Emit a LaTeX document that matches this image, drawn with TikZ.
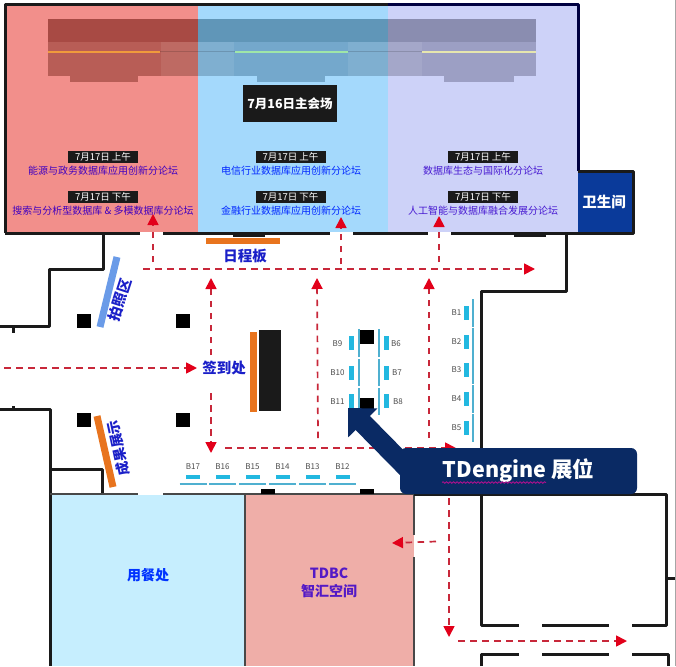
\documentclass[tikz,border=0pt]{standalone}
\usepackage{fontspec}
\setmainfont{Noto Sans CJK SC}
\usetikzlibrary{arrows.meta, decorations.pathmorphing}

\definecolor{wallblack}{HTML}{1A1A1A}
\definecolor{hallred}{HTML}{F28F8B}
\definecolor{hallblue}{HTML}{A4D9FC}
\definecolor{halllav}{HTML}{CDD2F8}
\definecolor{loungeblue}{HTML}{C6EEFE}
\definecolor{loungered}{HTML}{EFAEA8}
\definecolor{wcblue}{HTML}{0A3A9A}
\definecolor{navy}{HTML}{0A2A64}
\definecolor{barorange}{HTML}{E8741E}
\definecolor{barblue}{HTML}{6A9BE8}
\definecolor{boothcyan}{HTML}{22B8E0}
\definecolor{boothline}{HTML}{4FB0D0}
\definecolor{routered}{HTML}{C8283A}
\definecolor{tipred}{HTML}{E2001A}
\definecolor{labelblue}{HTML}{1A1FC8}
\definecolor{stagetopA}{HTML}{A84A44}
\definecolor{stagetopB}{HTML}{6096B8}
\definecolor{stagetopC}{HTML}{8A8DB0}
\definecolor{stagelowA}{HTML}{B85D56}
\definecolor{stagelowB}{HTML}{74A8CC}
\definecolor{stagelowC}{HTML}{9C9FC4}
\definecolor{stagelineA}{HTML}{F09A3C}
\definecolor{stagelineB}{HTML}{9FE6A8}
\definecolor{stagelineC}{HTML}{E6E6AE}

\begin{document}
\begin{tikzpicture}[x=1pt, y=-1pt,
    wall/.style = {draw=wallblack, line width=3pt, line join=round},
    thinwall/.style = {draw=wallblack!80, line width=2pt},
    route/.style = {draw=routered, line width=1.7pt,
        dash pattern=on 6.5pt off 5.5pt,
        -{Triangle[length=11pt,width=11pt,color=tipred]}},
    timetag/.style = {fill=wallblack, text=white, inner sep=0pt,
        minimum width=70pt, minimum height=12pt,
        font=\fontsize{9.5}{10}\selectfont},
    forum/.style = {font=\fontsize{10}{11}\selectfont, inner sep=0pt},
    zone/.style = {text=labelblue, inner sep=0pt,
        font=\fontsize{14.5}{16}\selectfont\bfseries},
    booth/.style = {text=black!70, inner sep=0pt,
        font=\fontsize{8}{9}\selectfont},
    pillar/.style = {fill=black, inner sep=0pt, minimum size=14pt}]

\useasboundingbox (0,0) rectangle (676,666);

% Main hall
\fill[hallred] (5,5) rectangle (198,232);
\fill[hallblue] (198,5) rectangle (388,232);
\fill[halllav] (388,5) rectangle (578,232);

% Stage
\foreach \xa/\xb/\part in {48/198/A,198/388/B,388/536/C} {
    \fill[stagetop\part] (\xa,19) rectangle (\xb,42);
    \fill[stagelow\part] (\xa,42) rectangle (\xb,76);
}
\fill[stagelowA!92!white] (161,42) rectangle (198,76);
\fill[stagelowB!92!white] (198,42) rectangle (234,76);
\fill[stagelowB!92!white] (348,42) rectangle (388,76);
\fill[stagelowC!92!white] (388,42) rectangle (422,76);
\fill[stagelowA] (70,76) rectangle ++(68,6);
\fill[stagelowB] (257,76) rectangle ++(68,6);
\fill[stagelowC] (444,76) rectangle ++(70,6);
\draw[line width=1pt, black, draw opacity=.15] (160,52) -- (235,52);
\draw[line width=1pt, black, draw opacity=.15] (348,52) -- (422,52);
\draw[line width=1.1pt, stagelineA] (48,52) -- (160,52);
\draw[line width=1.1pt, stagelineB] (235,52) -- (348,52);
\draw[line width=1.1pt, stagelineC] (422,52) -- (536,52);

% Main hall labels
\node[fill=wallblack, text=white, inner sep=0pt, minimum width=94pt, minimum height=37pt,
    font=\fontsize{12.5}{14}\selectfont\bfseries] (mainhall) at (290,103.5) {7月16日主会场};

\node[timetag] (amA) at (103,157) {7月17日 上午};
\node[timetag] (pmA) at (103,197) {7月17日 下午};
\node[timetag] (amB) at (290.5,157) {7月17日 上午};
\node[timetag] (pmB) at (290.5,197) {7月17日 下午};
\node[timetag] (amC) at (483,157) {7月17日 上午};
\node[timetag] (pmC) at (483,197) {7月17日 下午};

\node[forum, text=blue!75!red] (forumA) at (103,170.5) {能源与政务数据库应用创新分论坛};
\node[forum, text=blue!75!red] (forumB) at (103,210.5) {搜索与分析型数据库 \& 多模数据库分论坛};
\node[forum, text=blue!85!cyan] (forumC) at (291,170.5) {电信行业数据库应用创新分论坛};
\node[forum, text=blue!85!cyan] (forumD) at (291,210.5) {金融行业数据库应用创新分论坛};
\node[forum, text=blue!80!red!90!white] (forumE) at (483,170.5) {数据库生态与国际化分论坛};
\node[forum, text=blue!80!red!90!white] (forumF) at (483,210.5) {人工智能与数据库融合发展分论坛};

% Restroom
\fill[wcblue] (578,171) rectangle (633,233);
\node[text=white, inner sep=0pt, font=\fontsize{14.5}{16}\selectfont\bfseries] (wc) at (604,202) {卫生间};

% Lower rooms
\fill[loungeblue] (51,495) rectangle (245,666);
\fill[loungered] (245,495) rectangle (414,666);
\node[zone, text=blue!80!cyan, font=\fontsize{14}{16}\selectfont\bfseries] (dining) at (148,575) {用餐处};
\node[zone, text=blue!75!red!90!white, font=\fontsize{14}{18}\selectfont\bfseries, align=center] (tdbc) at (329,583) {TDBC\\智汇空间};

% Walls
\draw[wall] (5,233) -- (5,5) -- (198,5) -- (388,5);
\draw[wall, draw=black!75!blue] (388,5) -- (578,5) -- (578,171);
\draw[wall] (5,233) -- (140,233);
\draw[wall] (163,233) -- (330,233);
\draw[wall] (353,233) -- (428,233);
\draw[wall] (451,233) -- (633,233) -- (633,171) -- (578,171);
\fill[wallblack] (233,233) rectangle (265,236.5);
\fill[wallblack] (514,233) rectangle (546,236.5);
\draw[wall] (103,233) -- (103,269) -- (49,269) -- (49,326) -- (0,326);
\draw[wall] (13,326) -- (13,333);
\draw[wall] (0,409) -- (50,409) -- (50,666);
\draw[wall] (13,406) -- (13,409);
\draw[wall] (50,469) -- (102,469) -- (102,494);
\draw[wall] (566,233) -- (566,291) -- (481,291) -- (481,455);
\draw[thinwall] (50,494) -- (138,494);
\draw[thinwall] (163,494) -- (414,494);
\draw[thinwall] (245,494) -- (245,666);
\draw[thinwall] (414,494) -- (414,535);
\draw[thinwall] (414,557) -- (414,666);
\fill[black] (261,489) rectangle (275,494);
\fill[black] (360,489) rectangle (374,494);

% Right rooms
\draw[wall] (414,494) -- (666,494) -- (666,625) -- (632,625);
\draw[wall] (481,494) -- (481,625) -- (519,625);
\draw[wall] (542,625) -- (609,625);
\draw[wall] (666,578) -- (676,578);
\draw[wall] (481,666) -- (481,654) -- (519,654);
\draw[wall] (542,654) -- (609,654);
\draw[wall] (632,654) -- (668,654) -- (668,666);

% Pillars
\node[pillar] (pillarA) at (84,321) {};
\node[pillar] (pillarB) at (183,321) {};
\node[pillar] (pillarC) at (84,420) {};
\node[pillar] (pillarD) at (183,420) {};
\node[pillar] (pillarE) at (367,337) {};
\node[pillar] (pillarF) at (367,405) {};

% Boards
\fill[barorange] (206,238) rectangle (280,244);
\fill[barorange] (250,332) rectangle (256.5,412);
\fill[wallblack] (259,330) rectangle (281,411);
\draw[line width=7pt, barblue] (117,257) -- (100,327);
\draw[line width=7pt, barorange] (97,416) -- (113,487);

\node[zone] (schedule) at (245,256) {日程板};
\node[zone] (signin) at (224,368) {签到处};
\node[zone, rotate=72] (photo) at (120,300) {拍照区};
\node[zone, rotate=102, font=\fontsize{14}{16}\selectfont\bfseries] (results) at (118,448) {成果展示};

% Booths, bottom row
\foreach \n/\x in {17/193,16/222.5,15/252.5,14/282.5,13/312.5,12/342.5} {
    \node[booth] (b\n) at (\x,467) {B\n};
    \fill[boothcyan] (\x-7,474.5) rectangle (\x+7,479);
    \draw[line width=1.2pt, boothline] (\x-13.5,484) -- (\x+13.5,484);
}

% Booths, middle island
\foreach \n/\y in {9/343,10/372.5,11/401} {
    \node[booth] (b\n) at (337.5,\y+.5) {B\n};
    \fill[boothcyan] (348.5,\y-7) rectangle (353.5,\y+7);
}
\foreach \n/\y/\x in {6/343/396,7/372.5/397,8/401/398} {
    \node[booth] (b\n) at (\x,\y+.5) {B\n};
    \fill[boothcyan] (384,\y-7) rectangle (389,\y+7);
}
\foreach \ya/\yb in {329/357,359/386,388/415} {
    \draw[line width=1.2pt, boothline] (359,\ya) -- (359,\yb);
    \draw[line width=1.2pt, boothline] (379,\ya) -- (379,\yb);
}

% Booths, right column
\foreach \n/\y in {1/313,2/341.5,3/370,4/399,5/428} {
    \node[booth] (b\n) at (456.5,\y) {B\n};
    \fill[boothcyan] (463.5,\y-7) rectangle (468.5,\y+7);
    \draw[line width=1.2pt, boothline] (473,\y-14) -- (473,\y+14);
}

% Routes
\draw[route] (4,368) -- (197,368);
\draw[route] (211,355) -- (211,278);
\draw[route] (211,393) -- (211,453);
\draw[route] (318,438) -- (317,278);
\draw[route] (429,438) -- (429,278);
\draw[route] (143,269) -- (535,269);
\draw[route] (153,262) -- (153,214);
\draw[route] (341,264) -- (341,217);
\draw[route] (439,262) -- (439,216);
\draw[route] (225,448) -- (456,448);
\draw[route] (449,498) -- (449,637);
\draw[route] (458,641) -- (627,641);
\draw[route] (436,541.5) -- (392,543);

% TDengine callout
\node[fill=navy, text=white, rounded corners=6pt, inner sep=0pt,
    minimum width=237pt, minimum height=46pt,
    font=\fontsize{21.5}{23}\selectfont\bfseries] (tdengine) at (518.5,471) {TDengine 展位};
\coordinate (tdbooth) at (348,408);
\draw[navy, line width=20pt, shorten <=-12pt,
    -{Triangle[length=21pt,width=40pt,color=navy]}] (tdengine.175) -- (tdbooth);
\draw[magenta!70!blue, line width=.8pt, decorate,
    decoration={snake, amplitude=.8pt, segment length=3.5pt}] (442,482.5) -- (546,482.5);

% Picture edge
\draw[line width=.7pt, black!35] (675.5,0) -- (675.5,666);
\end{tikzpicture}
\end{document}
